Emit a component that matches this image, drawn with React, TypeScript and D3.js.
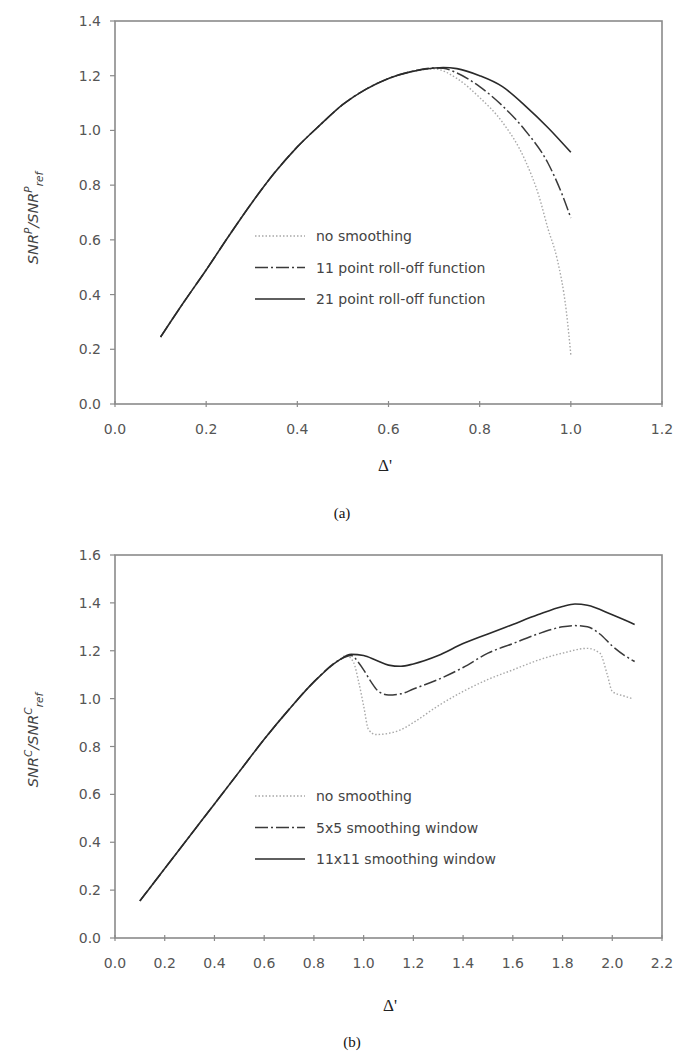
import React from "react";
import * as d3 from "d3";

// ---------- Data: panel (a) ----------
const aNoSmoothX = [0.1, 0.15, 0.2, 0.25, 0.3, 0.35, 0.4, 0.45, 0.5, 0.55, 0.6, 0.65, 0.7, 0.75, 0.8, 0.85, 0.9, 0.93, 0.95, 0.97, 0.99, 1.0];
const aNoSmoothY = [0.245, 0.37, 0.49, 0.615, 0.735, 0.845, 0.94, 1.02, 1.095, 1.15, 1.19, 1.215, 1.225, 1.19, 1.12, 1.03, 0.89, 0.76, 0.64, 0.53, 0.34, 0.18];
const a11X = [0.1, 0.15, 0.2, 0.25, 0.3, 0.35, 0.4, 0.45, 0.5, 0.55, 0.6, 0.65, 0.7, 0.72, 0.75, 0.8, 0.85, 0.9, 0.95, 0.98, 1.0];
const a11Y = [0.245, 0.37, 0.49, 0.615, 0.735, 0.845, 0.94, 1.02, 1.095, 1.15, 1.19, 1.215, 1.228, 1.227, 1.21, 1.16, 1.09, 1.0, 0.88, 0.77, 0.68];
const a21X = [0.1, 0.15, 0.2, 0.25, 0.3, 0.35, 0.4, 0.45, 0.5, 0.55, 0.6, 0.65, 0.7, 0.72, 0.75, 0.8, 0.85, 0.9, 0.95, 1.0];
const a21Y = [0.245, 0.37, 0.49, 0.615, 0.735, 0.845, 0.94, 1.02, 1.095, 1.15, 1.19, 1.215, 1.228, 1.23, 1.226, 1.2, 1.16, 1.09, 1.01, 0.92];
const aXTicks = [0.0, 0.2, 0.4, 0.6, 0.8, 1.0, 1.2];
const aYTicks = [0.0, 0.2, 0.4, 0.6, 0.8, 1.0, 1.2, 1.4];
const aLegend = ["no smoothing", "11 point roll-off function", "21 point roll-off function"];

// ---------- Data: panel (b) ----------
const bNoSmoothX = [0.1, 0.2, 0.3, 0.4, 0.5, 0.6, 0.7, 0.8, 0.9, 0.93, 0.96, 0.98, 1.0, 1.02, 1.05, 1.1, 1.15, 1.2, 1.3, 1.4, 1.5, 1.6, 1.7, 1.8, 1.9, 1.95, 1.98, 2.0, 2.05, 2.08];
const bNoSmoothY = [0.155, 0.29, 0.425, 0.56, 0.695, 0.83, 0.955, 1.07, 1.16, 1.18, 1.15, 1.07, 0.97, 0.87, 0.85, 0.855, 0.87, 0.9, 0.97, 1.03, 1.08, 1.12, 1.16, 1.19, 1.21, 1.19, 1.1, 1.03, 1.01, 1.0];
const b5X = [0.1, 0.2, 0.3, 0.4, 0.5, 0.6, 0.7, 0.8, 0.9, 0.95, 0.98, 1.0, 1.03, 1.06, 1.1, 1.15, 1.2, 1.3, 1.4, 1.5, 1.6, 1.7, 1.8, 1.85, 1.9, 1.95, 2.0, 2.05, 2.09];
const b5Y = [0.155, 0.29, 0.425, 0.56, 0.695, 0.83, 0.955, 1.07, 1.16, 1.18, 1.15, 1.12, 1.07, 1.03, 1.015, 1.02, 1.04, 1.08, 1.13, 1.19, 1.23, 1.27, 1.3, 1.305, 1.3, 1.27, 1.22, 1.18, 1.155];
const b11X = [0.1, 0.2, 0.3, 0.4, 0.5, 0.6, 0.7, 0.8, 0.9, 0.95, 1.0, 1.05, 1.1, 1.15, 1.2, 1.3, 1.4, 1.5, 1.6, 1.7, 1.8, 1.85, 1.9, 2.0, 2.09];
const b11Y = [0.155, 0.29, 0.425, 0.56, 0.695, 0.83, 0.955, 1.07, 1.16, 1.185, 1.18, 1.16, 1.14, 1.135, 1.145, 1.18, 1.23, 1.27, 1.31, 1.35, 1.385, 1.395, 1.39, 1.35, 1.31];
const bXTicks = [0.0, 0.2, 0.4, 0.6, 0.8, 1.0, 1.2, 1.4, 1.6, 1.8, 2.0, 2.2];
const bYTicks = [0.0, 0.2, 0.4, 0.6, 0.8, 1.0, 1.2, 1.4, 1.6];
const bLegend = ["no smoothing", "5x5 smoothing window", "11x11 smoothing window"];

const STYLES = [
  { stroke: "#a8a8a8", dash: "1.5,2", width: 1.4 },
  { stroke: "#3a3a3a", dash: "13,3,2,3", width: 1.5 },
  { stroke: "#2a2a2a", dash: "", width: 1.6 },
];

const TICK_FONT = "'DejaVu Sans', sans-serif";

type PanelProps = {
  top: number;
  bottom: number;
  xMax: number;
  yMax: number;
  xTicks: number[];
  yTicks: number[];
  series: { x: number[]; y: number[] }[];
  legend: string[];
  legendY: number;
  sup: string;
  caption: string;
  deltaX: number;
  deltaY: number;
  captionX: number;
  captionY: number;
  yLabelY: number;
};

function Panel(p: PanelProps) {
  const left = 115;
  const right = 662;
  const x = d3.scaleLinear().domain([0, p.xMax]).range([left, right]);
  const y = d3.scaleLinear().domain([0, p.yMax]).range([p.bottom, p.top]);
  const line = d3
    .line<[number, number]>()
    .x((d) => x(d[0]))
    .y((d) => y(d[1]))
    .curve(d3.curveMonotoneX);
  const axisColor = "#8a8a8a";
  const textColor = "#555";
  return (
    <g>
      <rect x={left} y={p.top} width={right - left} height={p.bottom - p.top} fill="none" stroke={axisColor} strokeWidth={1.6} />
      {p.yTicks.map((t) => (
        <g key={"y" + t}>
          <line x1={left - 5} x2={left} y1={y(t)} y2={y(t)} stroke={axisColor} strokeWidth={1.2} />
          <text x={left - 14} y={y(t)} dy="0.36em" textAnchor="end" fontFamily={TICK_FONT} fontSize={14} fill={textColor}>
            {t.toFixed(1)}
          </text>
        </g>
      ))}
      {p.xTicks.map((t) => (
        <g key={"x" + t}>
          <line x1={x(t)} x2={x(t)} y1={p.bottom - 3} y2={p.bottom + 3} stroke={axisColor} strokeWidth={1.2} />
          <text x={x(t)} y={p.bottom + 30} textAnchor="middle" fontFamily={TICK_FONT} fontSize={14} fill={textColor}>
            {t.toFixed(1)}
          </text>
        </g>
      ))}
      {p.series.map((s, i) => (
        <path
          key={"s" + i}
          d={line(s.x.map((v, j) => [v, s.y[j]] as [number, number])) || ""}
          fill="none"
          stroke={STYLES[i].stroke}
          strokeWidth={STYLES[i].width}
          strokeDasharray={STYLES[i].dash}
        />
      ))}
      {p.legend.map((lab, i) => (
        <g key={"l" + i}>
          <line x1={255} x2={305} y1={p.legendY + i * 31.5} y2={p.legendY + i * 31.5} stroke={STYLES[i].stroke} strokeWidth={STYLES[i].width} strokeDasharray={STYLES[i].dash} />
          <text x={316} y={p.legendY + i * 31.5} dy="0.36em" fontFamily={TICK_FONT} fontSize={14} fill="#444">
            {lab}
          </text>
        </g>
      ))}
      <text transform={`translate(38,${p.yLabelY}) rotate(-90)`} textAnchor="middle" fontFamily={TICK_FONT} fontStyle="italic" fontSize={14.5} fill="#444">
        <tspan>SNR</tspan>
        <tspan dy={-6} fontSize={10.5}>{p.sup}</tspan>
        <tspan dy={6}>/SNR</tspan>
        <tspan dy={-6} fontSize={10.5}>{p.sup}</tspan>
        <tspan dy={11} fontSize={10.5}>ref</tspan>
      </text>
      <text x={p.deltaX} y={p.deltaY} textAnchor="middle" fontFamily="'Liberation Serif', 'DejaVu Serif', serif" fontSize={17} fill="#222">
        Δ'
      </text>
      <text x={p.captionX} y={p.captionY} textAnchor="middle" fontFamily="'Liberation Serif', serif" fontSize={15} fill="#111">
        {p.caption}
      </text>
    </g>
  );
}

export default function App() {
  return (
    <div style={{ position: "absolute", left: 0, top: 0 }}>
      <svg width={676} height={1053} style={{ display: "block", background: "#fff" }}>
        <Panel
          top={21}
          bottom={404}
          xMax={1.2}
          yMax={1.4}
          xTicks={aXTicks}
          yTicks={aYTicks}
          series={[
            { x: aNoSmoothX, y: aNoSmoothY },
            { x: a11X, y: a11Y },
            { x: a21X, y: a21Y },
          ]}
          legend={aLegend}
          legendY={236}
          sup="P"
          caption="(a)"
          deltaX={385}
          deltaY={471}
          captionX={342}
          captionY={518}
          yLabelY={218}
        />
        <Panel
          top={555}
          bottom={938}
          xMax={2.2}
          yMax={1.6}
          xTicks={bXTicks}
          yTicks={bYTicks}
          series={[
            { x: bNoSmoothX, y: bNoSmoothY },
            { x: b5X, y: b5Y },
            { x: b11X, y: b11Y },
          ]}
          legend={bLegend}
          legendY={796}
          sup="C"
          caption="(b)"
          deltaX={390}
          deltaY={1011}
          captionX={352}
          captionY={1047}
          yLabelY={740}
        />
      </svg>
    </div>
  );
}
